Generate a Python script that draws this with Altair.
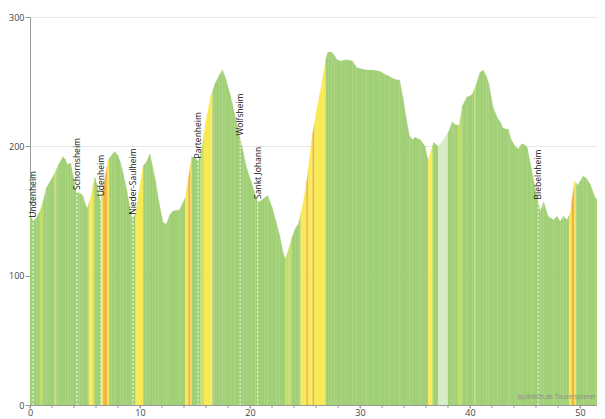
import altair as alt
import numpy as np
import pandas as pd

# ---- profile (distance in km, elevation in m) ----
km = [0.0, 0.3, 0.6, 0.9, 1.2, 1.5, 1.9, 2.3, 2.6, 3.0, 3.2, 3.4, 3.7, 3.9, 4.2, 4.5, 4.8,
      5.0, 5.2, 5.5, 5.9, 6.1, 6.4, 6.6, 6.9, 7.1, 7.4, 7.7, 8.0, 8.2, 8.5, 8.8, 9.1, 9.3,
      9.6, 9.9, 10.3, 10.6, 10.9, 11.1, 11.4, 11.7, 12.1, 12.4, 12.7, 13.0, 13.6, 14.1,
      14.4, 14.7, 15.0, 15.3, 15.6, 16.0, 16.4, 16.8, 17.2, 17.5, 17.8, 18.2, 18.6, 19.1,
      19.4, 19.7, 20.1, 20.5, 20.7, 21.0, 21.3, 21.6, 22.0, 22.4, 22.7, 23.0, 23.2, 23.5,
      23.8, 24.1, 24.4, 24.8, 25.2, 25.6, 26.1, 26.6, 26.9, 27.1, 27.4, 27.7, 27.9, 28.2,
      28.8, 29.3, 29.7, 30.1, 30.6, 31.2, 31.8, 32.2, 32.7, 33.1, 33.6, 33.9, 34.2, 34.5,
      34.8, 35.0, 35.5, 35.9, 36.2, 36.5, 36.7, 37.1, 37.6, 38.1, 38.4, 38.6, 39.0, 39.3,
      39.7, 40.2, 40.5, 40.9, 41.2, 41.5, 41.7, 42.1, 42.5, 42.8, 43.0, 43.5, 43.7, 44.1,
      44.4, 44.7, 45.0, 45.2, 45.6, 46.1, 46.4, 46.7, 47.1, 47.6, 47.9, 48.2, 48.5, 48.8,
      49.1, 49.5, 49.8, 50.3, 50.6, 50.9, 51.4, 51.8, 52.3]
elev = [147, 142, 145, 150, 158, 168, 174, 180, 186, 192, 190, 186, 187, 178, 164, 164, 162,
        156, 152, 160, 176, 170, 157, 165, 180, 189, 193, 196, 193, 188, 178, 166, 152, 144,
        148, 165, 185, 188, 194, 186, 174, 158, 141, 140, 147, 150, 151, 160,
        175, 192, 191, 188, 198, 220, 238, 248, 255, 259, 252, 240, 225, 206,
        195, 183, 173, 162, 157, 158, 160, 162, 153, 141, 131, 118, 113, 120,
        129, 136, 140, 155, 175, 205, 230, 252, 268, 273, 273, 270, 267, 266,
        267, 266, 261, 260, 259, 259, 258, 256, 254, 252, 251, 238, 222, 208,
        205, 207, 205, 200, 189, 198, 203, 200, 205, 212, 219, 217, 216, 231,
        238, 240, 246, 257, 259, 254, 249, 230, 222, 218, 214, 213, 206, 200,
        198, 202, 201, 199, 182, 160, 150, 157, 146, 143, 146, 142, 146, 143,
        148, 173, 170, 177, 175, 171, 160, 158, 158]

# ---- gradient bands (start km, end km, class) ----
band_start = [0.9, 2.2, 5.35, 5.75, 6.5, 6.65, 7.0, 9.6, 14.1, 14.4, 14.6, 15.5, 15.8,
              23.2, 24.6, 25.15, 25.3, 25.7, 25.85, 36.2, 37.1, 38.9, 40.4, 49.0, 49.25, 49.5]
band_end = [1.2, 2.4, 5.75, 5.9, 6.65, 7.0, 7.2, 10.3, 14.4, 14.6, 14.7, 15.8, 16.6,
            23.8, 25.15, 25.3, 25.7, 25.85, 26.9, 36.6, 38.0, 39.3, 40.5, 49.25, 49.5, 49.65]
band_class = ["lg", "lg", "y", "lg", "y", "o", "y", "y", "y", "o", "y", "lg", "y",
              "lg", "y", "o", "y", "o", "y", "y", "p", "lg", "lg", "y", "o", "y"]

# ---- towns ----
town_names = ["Undenheim", "Schornsheim", "Udenheim", "Nieder-Saulheim", "Partenheim",
              "Wolfsheim", "Sankt Johann", "Biebelnheim"]
town_km = [0.27, 4.27, 6.45, 9.36, 15.27, 19.1, 20.7, 46.2]

# ---- axis ticks ----
x_label_values = [0, 10, 20, 30, 40, 50]
x_minor_ticks = list(range(0, 52, 2))
y_values = [0, 100, 200, 300]

class_names = ["g", "lg", "y", "o", "p"]
class_colors = ["#a2d076", "#c3de6a", "#f8ea55", "#f5b046", "#d7ecc4"]

# build segmented area table
km_a = np.array(km, dtype=float)
el_a = np.array(elev, dtype=float)
breaks = sorted(set(km) | set(band_start) | set(band_end))
rows = []
for i in range(len(breaks) - 1):
    a, b = breaks[i], breaks[i + 1]
    mid = (a + b) / 2
    cls = "g"
    for s, e, c in zip(band_start, band_end, band_class):
        if s <= mid < e:
            cls = c
    for x in (a, b):
        rows.append({"seg": i, "km": x, "elev": float(np.interp(x, km_a, el_a)), "cls": cls})
prof = pd.DataFrame(rows)

towns = pd.DataFrame({
    "name": town_names,
    "km": town_km,
    "elev": [float(np.interp(k, km_a, el_a)) for k in town_km],
})
towns["zero"] = 0

W, H = 567, 388
xmax = W / 11.0
xs = alt.Scale(domain=[0, xmax], nice=False, zero=False)
ys = alt.Scale(domain=[0, 300], nice=False)
cs = alt.Scale(domain=class_names, range=class_colors)

area = alt.Chart(prof).mark_area(interpolate="linear", clip=True, strokeWidth=0.5,
                                 strokeOpacity=0.5).encode(
    x=alt.X("km:Q", scale=xs,
            axis=alt.Axis(values=x_label_values, title=None, grid=False,
                          labelOverlap=False, labelFlush=False,
                          tickSize=3, domainColor="#999999", tickColor="#999999",
                          labelFontSize=9, labelColor="#444444", labelFont="Open Sans",
                          labelPadding=0)),
    y=alt.Y("elev:Q", scale=ys, stack=None,
            axis=alt.Axis(values=y_values, title=None, grid=True,
                          gridColor="#e6e6e6", tickSize=5, domainColor="#999999",
                          tickColor="#999999", labelFontSize=9, labelColor="#444444",
                          labelFont="Open Sans", labelPadding=1)),
    detail="seg:N",
    color=alt.Color("cls:N", scale=cs, legend=None),
    stroke=alt.Stroke("cls:N", scale=cs, legend=None),
)

minor = alt.Chart(pd.DataFrame({"t": x_minor_ticks})).mark_rule(
    color="#999999", strokeWidth=1
).encode(x=alt.X("t:Q", scale=xs), y=alt.value(H), y2=alt.value(H + 3))

rules = alt.Chart(towns).mark_rule(color="#ffffff", strokeDash=[2, 2], strokeWidth=1,
                                   opacity=0.85).encode(
    x=alt.X("km:Q", scale=xs), y=alt.Y("zero:Q", scale=ys), y2="elev:Q"
)

labels = alt.Chart(towns).mark_text(angle=270, align="left", baseline="middle", dx=3,
                                    fontSize=8.5, font="Open Sans", color="#111111").encode(
    x=alt.X("km:Q", scale=xs), y=alt.Y("elev:Q", scale=ys), text="name:N"
)

wm = alt.Chart(pd.DataFrame({"t": ["quäldich.de Tourenplaner"]})).mark_text(
    align="right", baseline="middle", fontSize=6.5, font="Open Sans", color="#8c8c8c"
).encode(x=alt.value(W - 1), y=alt.value(H - 8), text="t:N")

chart = alt.layer(area, minor, rules, labels, wm).properties(
    width=W, height=H,
    autosize=alt.AutoSizeParams(type="none"),
    padding={"left": 22, "top": 9, "right": 0, "bottom": 14},
).configure_view(stroke=None)

chart.save("out.html", embed_options={"renderer": "svg", "actions": False})
